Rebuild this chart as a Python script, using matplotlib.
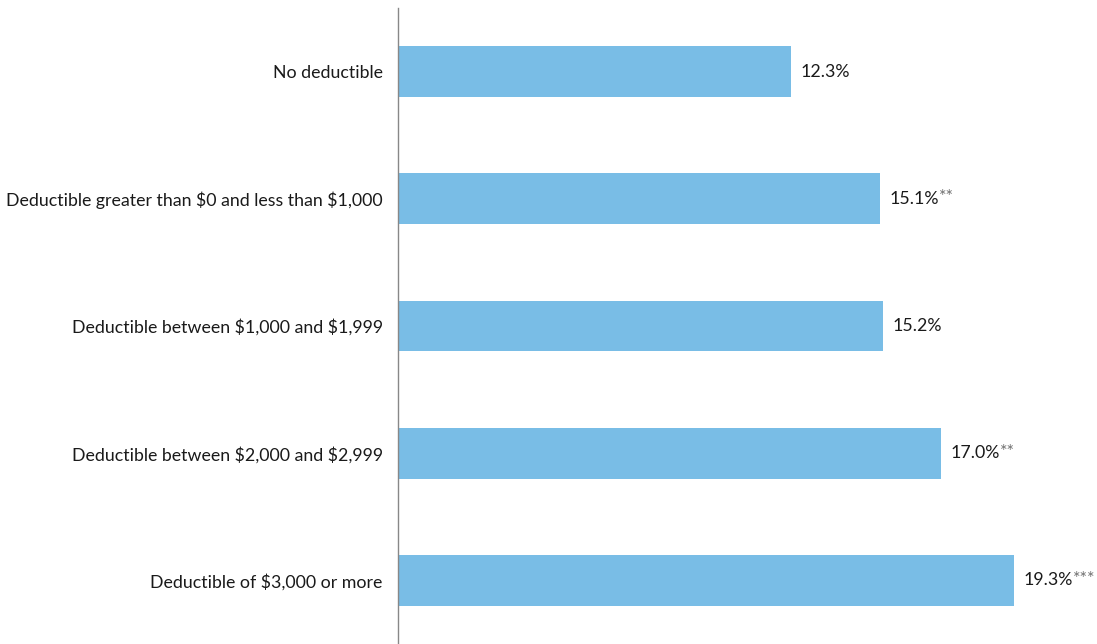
import matplotlib
matplotlib.use("Agg")
import matplotlib.pyplot as plt

# ── Data ──────────────────────────────────────────────────────────────────────
categories = [
    "No deductible",
    "Deductible greater than $0 and less than $1,000",
    "Deductible between $1,000 and $1,999",
    "Deductible between $2,000 and $2,999",
    "Deductible of $3,000 or more",
]
values = [12.3, 15.1, 15.2, 17.0, 19.3]
stars = ["", "**", "", "**", "***"]

BAR = "#79BDE6"
TXT = "#1a1a1a"
AXIS = "#888888"

plt.rcParams["font.family"] = ["Lato", "DejaVu Sans"]
plt.rcParams["text.parse_math"] = False

fig = plt.figure(figsize=(10.97, 6.44), dpi=100)
ax = fig.add_axes([398 / 1097, 0, 699 / 1097, 636 / 644])

y = list(range(len(categories)))
ax.barh(y, values, height=0.4, color=BAR)
ax.set_xlim(0, 21.9)
ax.set_ylim(len(categories) - 0.5, -0.5)

ax.set_yticks(y)
ax.set_yticklabels(categories, color=TXT, fontsize=12.8)
ax.tick_params(axis="y", length=0, pad=11)
ax.set_xticks([])

for s in ("top", "right", "bottom"):
    ax.spines[s].set_visible(False)
ax.spines["left"].set_color(AXIS)
ax.spines["left"].set_linewidth(1.0)

# value labels, significance stars drawn lighter and raised
fig.canvas.draw()
for yi, v, st in zip(y, values, stars):
    t = ax.annotate(f"{v:.1f}%", (v, yi), xytext=(7, 0), textcoords="offset points",
                    ha="left", va="center", color=TXT, fontsize=12.8)
    if st:
        bb = t.get_window_extent(renderer=fig.canvas.get_renderer())
        ax.annotate(st, (bb.x1, bb.y1), xycoords="figure pixels",
                    xytext=(0, 1), textcoords="offset points",
                    ha="left", va="top", color="#707070", fontsize=13)

fig.savefig("out.png", dpi=100)
